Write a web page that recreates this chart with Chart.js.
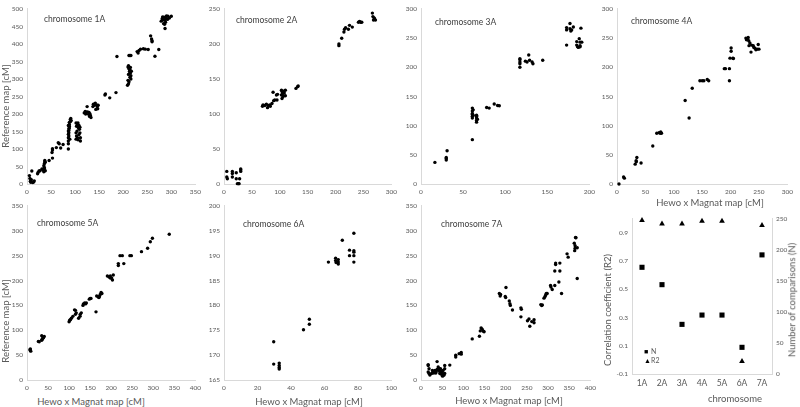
<!DOCTYPE html>
<html><head><meta charset="utf-8">
<script src="https://cdn.jsdelivr.net/npm/chart.js@4"></script>
<style>
html,body{margin:0;padding:0;background:#fff;}
body{width:800px;height:407px;position:relative;overflow:hidden;font-family:Lato,"Open Sans",sans-serif;}
.box{position:absolute;}
.t{position:absolute;color:#595959;font-size:9.5px;white-space:nowrap;transform:translate(-50%,-50%);line-height:1;}
.rot{transform:translate(-50%,-50%) rotate(-90deg);}
.lab{position:absolute;color:#404040;font-size:8.5px;white-space:nowrap;transform:translateY(-50%);line-height:1;}
.leg{position:absolute;color:#595959;font-size:7px;white-space:nowrap;transform:translateY(-50%);line-height:1;}
.leg b{color:#000;font-weight:normal;display:inline-block;width:7px;}
</style></head><body>
<script>
// ---------- data ----------
const c1x=[5,6,7,8,9,10,12,14,15,22,23,25,27,31,33,35,35,36,35,36,37,37,38,36,38,46,53,52,53,53,61,67,65,70,75,
86,86,86,86,86,87,86,88,88,90,92,88,87,87,89,86,88,91,90,87,
102,106,103,108,104,102,110,103,108,105,111,106,102,111,109,107,105,110,
119,121,123,126,129,131,132,133,125,128,122,130,137,138,140,142,145,146,147,143,148,
162,163,172,185,187,
210,212,214,213,215,211,216,214,210,212,209,211,216,213,217,215,211,212,214,216,
229,231,233,236,242,246,252,257,259,260,260,266,274,
279,281,282,284,286,287,287,289,290,293,292,296,300,285,288,283];
const c1y=[24,16,8,5,12,37,4,6,9,29,33,37,38,43,40,35,40,44,52,58,63,67,62,47,38,67,74,90,97,101,104,115,118,103,113,
100,123,132,142,151,158,167,170,176,184,181,160,146,137,128,115,165,187,178,153,
174,174,165,167,151,146,146,137,141,132,132,126,128,123,156,160,171,162,
203,207,205,206,204,200,195,190,221,199,200,193,221,228,225,231,226,221,215,213,225,
254,257,246,261,364,
334,330,325,321,317,313,309,305,296,292,282,286,300,328,322,333,338,367,367,367,
378,374,381,385,386,385,384,423,414,409,406,365,384,
465,472,477,458,456,444,469,474,480,479,470,474,479,476,462,468];

const c2x=[5,5,6,15,15,15,22,22,24,26,27,28,30,30,30,
69,70,73,76,78,79,82,83,86,88,89,91,94,96,95,103,104,104,105,106,108,108,110,110,103,106,
129,132,133,
206,206,211,215,216,218,223,225,230,241,243,245,247,266,267,269,270,271.5,268];
const c2y=[18,10,7.5,18,15,10,16,7.5,0.5,0.5,0.5,7.5,21.5,18,20,
111,113,112,114,109,112,113,111,115,131,119,120,127,128,120,127,132,122,129,125,133,130,126,134,134,131,
136.5,139,140,
200,197.5,208,217,221,223,221,226.5,224,231,232,231,231,244,239,237,236,234,234];

const c3x=[16.5,30,30,30,31,61,61,61,61,61,61,61,62,62,66,66,66,66,66,67,78,81,87,91,93,
117.5,117.5,117.5,117.5,117.5,124,126,128,129,132,133,144.6,
173,173,173,177,177,178,179,181,185,185,186,188,189,189,190,191,187,189];
const c3y=[37,41,43.5,45.5,57,76,130,125,121,119,116,113,127,118,118,113,109,106,116,111,131,130,137,134.5,134,
209,213,206,200,214.5,210.5,209,221,212,209,206,212,
268,264,238,275,266,262,264,269,244,238,235,249,243,237,267,243,234,235];

const c4x=[3.5,11.6,13,32,33.7,35,34,42.4,63,70,74,76,78.4,77,120,127,132.5,146,150,153,159,161.5,189,191,198,198,199,201,201,204,205,
227,228,230,231,232,234,232.5,237,236,240,243,244.6,247,248.7,250,241];
const c4y=[0,12,10,34,40,45.5,38,36,65,87,88,87,87,89,143,113,164,177,177,177,179,177,197.6,197.6,177,197.6,215.6,227.5,233,215.6,215,
250,247,249,251,245.5,241.5,237,238,226,237,232.5,230,231,239,231,234];

const c5x=[8,8,9,7,27,29,35,37.5,39,35,41,36,
100,101.5,103,105.5,109,113,115,117,115,122.6,126.5,126,129,133,134,137,139,141,148,150,152,164,165.6,169.5,172,174,176,178,171,
191,195,198,201,203,205,198,217,217,221,226.5,230,244.5,248,272,286.6,293,298,338];
const c5y=[62.5,59,58,61,77.6,77,89,84,85,80,87.5,82,
117,120,121,124,128,141,140,135,132,124,132,128,135,150,153,155,153,155,162.5,164,164,137,169,167,168,172,176,174,166,
209,207,209,205,201,211,205,230,234,250,250,234,250,250,258,265,278,285,293];

const c6x=[29.7,29.7,33,33,33,33,47.5,51,51,62.4,66.7,66.7,67,68.3,68.3,68.3,70.7,75,75,77.6,77.6,77.6,77.6,77.6];
const c6y=[172.7,168.2,168.4,167.9,167.5,167.2,175.1,176.2,177.2,188.7,189.5,189,188.6,189.2,188.7,188.3,193.1,191.1,190,194.5,191,190.7,190,188.7];

const c7x=[17,17,19,17,19,21,29,30,33,35,38,38,40.6,43,44.5,46,48,48,51,52,54,56,56,56,25,27,31,45,50,53,42,36,
68,82,82,90,95,95,121,138,140,142,144.5,147.6,149,
185,187,188,200.7,199,200,208.5,210,211,216,236,236,237,
251.5,255,257,261.6,267,267,283,285,286.6,290.5,293,294.5,296,298,306,307,310,316,325.7,332,369,
316,318,318,328,328,345,347.6,365,366,362,364,364,363,369];
const c7y=[29,31,22.6,16,13,10,16,14,19,14,21,37,26,19,13,22.6,18,11.6,7.7,19,9.7,13,22.6,29,13,19,17,16,14,12,23,17,
30,46,50,53,55.5,52,82.6,88,98.7,104.5,102,98,97,
174,169,172,186,168,166,159,153.5,150,140.6,127,145,142,
119,122.6,108,117.4,115,121,151.6,149.6,151,164.5,168,171,174,174,190,187,182,190,197,174,204,
219,235,232,235,219,253.6,247,286.5,286,275,270,265,260,266];

const ticks1x=[0,50,100,150,200,250,300,350], ticks1y=[0,50,100,150,200,250,300,350,400,450,500];
const ticks2x=[0,50,100,150,200,250,300], ticks2y=[0,50,100,150,200,250];
const ticks3x=[0,50,100,150,200], ticks3y=[0,50,100,150,200,250,300];
const ticks4x=[0,50,100,150,200,250,300], ticks4y=[0,50,100,150,200,250,300];
const ticks5x=[0,50,100,150,200,250,300,350,400], ticks5y=[0,50,100,150,200,250,300,350];
const ticks6x=[0,20,40,60,80,100], ticks6y=[165,170,175,180,185,190,195,200];
const ticks7x=[0,50,100,150,200,250,300,350,400], ticks7y=[0,50,100,150,200,250,300,350];

const chromosomes=['1A','2A','3A','4A','5A','6A','7A'];
const countN=[172,144,80,95,95,43,192];
const corrR2=[0.99,0.965,0.965,0.985,0.985,-0.01,0.955];
const ticksR2=[-0.1,0.1,0.3,0.5,0.7,0.9], ticksR2max=1.0;
const ticksN=[0,50,100,150,200,250];

// ---------- helpers ----------
const FONT='Lato';
function addDiv(cls,text,x,y,extra){const d=document.createElement('div');d.className=cls;d.textContent=text;d.style.left=x+'px';d.style.top=y+'px';if(extra)Object.assign(d.style,extra);document.body.appendChild(d);return d;}
function makeCanvas(left,top,w,h){const div=document.createElement('div');div.className='box';Object.assign(div.style,{left:left+'px',top:top+'px',width:w+'px',height:h+'px'});const cv=document.createElement('canvas');cv.width=w;cv.height=h;cv.style.width=w+'px';cv.style.height=h+'px';div.appendChild(cv);document.body.appendChild(div);return cv;}
function linAxis(arr,pos,size,isX,maxV){
  return {type:'linear',position:pos,min:arr[0],max:(maxV!==undefined?maxV:arr[arr.length-1]),
    grid:{display:false,drawTicks:false},
    border:{display:true,color:'#D9D9D9',width:1},
    ticks:{font:{family:FONT,size:6.5},color:'#595959',padding:4,autoSkip:false,maxRotation:0},
    afterBuildTicks:s=>{s.ticks=arr.map(v=>({value:v}));},
    afterFit:s=>{if(isX)s.height=size;else s.width=size;}};
}
function scatterPanel(box,xs,ys,tx,ty){
  const yW=20,xH=14,pT=5,pR=8;
  const w=box.r-box.l+yW+pR,h=box.b-box.t+pT+xH;
  const cv=makeCanvas(box.l-yW,box.t-pT,w,h);
  new Chart(cv,{type:'scatter',
    data:{datasets:[{data:xs.map((x,i)=>({x:x,y:ys[i]})),pointRadius:1.7,pointHoverRadius:1.7,pointBackgroundColor:'#000',pointBorderWidth:0,clip:false}]},
    options:{responsive:false,animation:false,devicePixelRatio:1,
      layout:{padding:{top:pT,right:pR,left:0,bottom:0}},
      plugins:{legend:{display:false},tooltip:{enabled:false}},
      scales:{x:linAxis(tx,'bottom',xH,true),y:linAxis(ty,'left',yW,false)}}});
}

scatterPanel({l:27,r:197,t:6,b:184},c1x,c1y,ticks1x,ticks1y);
scatterPanel({l:224,r:393,t:6,b:184},c2x,c2y,ticks2x,ticks2y);
scatterPanel({l:421,r:591,t:6,b:184},c3x,c3y,ticks3x,ticks3y);
scatterPanel({l:617,r:789,t:6,b:184},c4x,c4y,ticks4x,ticks4y);
scatterPanel({l:27,r:197,t:203,b:380},c5x,c5y,ticks5x,ticks5y);
scatterPanel({l:224,r:393,t:203,b:380},c6x,c6y,ticks6x,ticks6y);
scatterPanel({l:421,r:592,t:203,b:380},c7x,c7y,ticks7x,ticks7y);

// summary panel
(function(){
  const box={l:632,r:772,t:216,b:374};
  const wL=22,wR=22,xH=16,pT=5,pR=0;
  const w=box.r-box.l+wL+wR+pR,h=box.b-box.t+pT+xH;
  const cv=makeCanvas(box.l-wL,box.t-pT,w,h);
  const yL=linAxis(ticksR2,'left',wL,false,ticksR2max);
  const yR=linAxis(ticksN,'right',wR,false);
  new Chart(cv,{type:'line',
    data:{labels:chromosomes,datasets:[
      {label:'N',data:countN,yAxisID:'yR',showLine:false,pointStyle:'rect',pointRadius:3.6,pointHoverRadius:3.6,pointBackgroundColor:'#000',pointBorderColor:'#000',pointBorderWidth:0,clip:false},
      {label:'R2',data:corrR2,yAxisID:'yL',showLine:false,pointStyle:'triangle',pointRadius:3.3,pointHoverRadius:3.3,pointBackgroundColor:'#000',pointBorderColor:'#000',pointBorderWidth:0,clip:false}]},
    options:{responsive:false,animation:false,devicePixelRatio:1,
      layout:{padding:{top:pT,right:pR,left:0,bottom:0}},
      plugins:{legend:{display:false},tooltip:{enabled:false}},
      scales:{
        x:{type:'category',offset:true,grid:{display:false,drawTicks:false},border:{display:true,color:'#D9D9D9'},
           ticks:{font:{family:FONT,size:8.5},color:'#595959',padding:4},afterFit:s=>{s.height=xH;}},
        yL:yL,yR:yR}}});
})();

// ---------- text overlays ----------
const labs=[['chromosome 1A',44,18.5],['chromosome 2A',236,19.5],['chromosome 3A',435,21.5],['chromosome 4A',631,20.5],
['chromosome 5A',37,222.5],['chromosome 6A',243,223.5],['chromosome 7A',441,224]];
labs.forEach(a=>addDiv('lab',a[0],a[1],a[2]));
addDiv('t rot','Reference map [cM]',5.5,106);
addDiv('t rot','Reference map [cM]',5.5,321);
addDiv('t','Hewo x Magnat map [cM]',91,401.5);
addDiv('t','Hewo x Magnat map [cM]',309,401.5);
addDiv('t','Hewo x Magnat map [cM]',509,401);
addDiv('t','Hewo x Magnat map [cM]',710,203);
addDiv('t rot','Correlation coefficient (R2)',608,310,{fontSize:8.5});
addDiv('t rot','Number of comparisons (N)',792,300,{fontSize:8.5});
addDiv('t','chromosome',735,399,{fontSize:8.5});
const l1=addDiv('leg','',644,351);l1.innerHTML='<b>&#9632;</b>N';
const l2=addDiv('leg','',644,360);l2.innerHTML='<b>&#9650;</b>R2';
</script>
</body></html>
